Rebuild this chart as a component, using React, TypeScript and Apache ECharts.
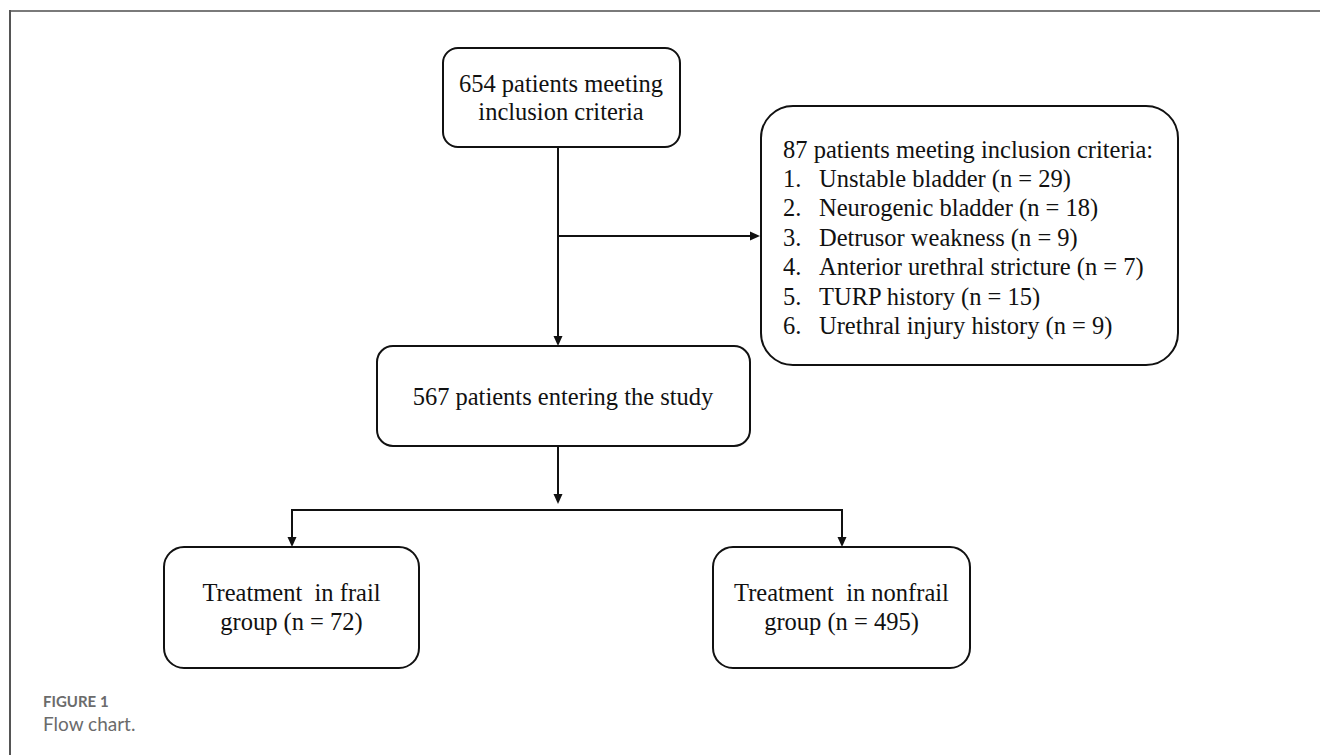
import React, { useEffect, useRef } from "react";
import * as echarts from "echarts";

const topBoxLines = ["654 patients meeting", "inclusion criteria"];
const studyBoxLines = ["567 patients entering the study"];
const exclusionTitle = "87 patients meeting inclusion criteria:";
const exclusionNumbers = ["1.", "2.", "3.", "4.", "5.", "6."];
const exclusionItems = [
  "Unstable bladder (n = 29)",
  "Neurogenic bladder (n = 18)",
  "Detrusor weakness (n = 9)",
  "Anterior urethral stricture (n = 7)",
  "TURP history (n = 15)",
  "Urethral injury history (n = 9)",
];
const frailLines = ["Treatment  in frail", "group (n = 72)"];
const nonfrailLines = ["Treatment  in nonfrail", "group (n = 495)"];
const captionTitle = "FIGURE 1";
const captionText = "Flow chart.";

const SERIF = '"Liberation Serif", "Times New Roman", serif';
const INK = "#111";
const FS = 24.5;

function box(x: number, y: number, w: number, h: number, r: number) {
  return {
    type: "rect",
    shape: { x, y, width: w, height: h, r },
    style: { fill: "#fff", stroke: INK, lineWidth: 2 },
  };
}

function centeredLines(lines: string[], cx: number, cy: number, gap: number) {
  const start = cy - ((lines.length - 1) * gap) / 2;
  return lines.map((t, i) => ({
    type: "text",
    x: cx,
    y: start + i * gap,
    style: {
      text: t,
      font: `${FS}px ${SERIF}`,
      fill: INK,
      align: "center",
      verticalAlign: "middle",
    },
  }));
}

function line(points: number[][]) {
  return {
    type: "polyline",
    shape: { points },
    style: { stroke: INK, lineWidth: 2, fill: "none" },
  };
}

function arrowDown(x: number, tipY: number) {
  return {
    type: "polygon",
    shape: { points: [[x - 4.5, tipY - 10], [x + 4.5, tipY - 10], [x, tipY]] },
    style: { fill: INK },
  };
}

function arrowRight(tipX: number, y: number) {
  return {
    type: "polygon",
    shape: { points: [[tipX - 10, y - 4.5], [tipX - 10, y + 4.5], [tipX, y]] },
    style: { fill: INK },
  };
}

export default function App() {
  const ref = useRef<HTMLDivElement>(null);
  useEffect(() => {
    document.body.style.margin = "0";
    const chart = echarts.init(ref.current!, undefined, { renderer: "svg" });
    const elements: any[] = [];

    // frame
    elements.push({
      type: "line",
      shape: { x1: 9, y1: 11, x2: 1320, y2: 11 },
      style: { stroke: "#7a7a7a", lineWidth: 2 },
    });
    elements.push({
      type: "line",
      shape: { x1: 10, y1: 10, x2: 10, y2: 755 },
      style: { stroke: "#555", lineWidth: 2 },
    });

    // connectors
    elements.push(line([[558, 147], [558, 338]]));
    elements.push(arrowDown(558, 346));
    elements.push(line([[558, 236], [751, 236]]));
    elements.push(arrowRight(760, 236));
    elements.push(line([[558, 446], [558, 495]]));
    elements.push(arrowDown(558, 504));
    elements.push(line([[292, 547 - 8], [292, 510], [842, 510], [842, 547 - 8]]));
    elements.push(arrowDown(292, 547));
    elements.push(arrowDown(842, 547));

    // boxes
    elements.push(box(443, 48, 237, 99, 15));
    elements.push(...centeredLines(topBoxLines, 561, 97, 28));

    elements.push(box(377, 346, 373, 100, 16));
    elements.push(...centeredLines(studyBoxLines, 563, 396, 28));

    elements.push(box(761, 106, 417, 259, 32));
    elements.push({
      type: "text",
      x: 783,
      y: 149,
      style: { text: exclusionTitle, font: `${FS}px ${SERIF}`, fill: INK, align: "left", verticalAlign: "middle" },
    });
    exclusionItems.forEach((t, i) => {
      const y = 149 + (i + 1) * 29.4;
      elements.push({
        type: "text",
        x: 783,
        y,
        style: { text: exclusionNumbers[i], font: `${FS}px ${SERIF}`, fill: INK, align: "left", verticalAlign: "middle" },
      });
      elements.push({
        type: "text",
        x: 819,
        y,
        style: { text: t, font: `${FS}px ${SERIF}`, fill: INK, align: "left", verticalAlign: "middle" },
      });
    });

    elements.push(box(164, 547, 255, 121, 20));
    elements.push(...centeredLines(frailLines, 291.5, 607, 29));

    elements.push(box(713, 547, 257, 121, 20));
    elements.push(...centeredLines(nonfrailLines, 841.5, 607, 29));

    // caption
    elements.push({
      type: "text",
      x: 43,
      y: 701,
      style: { text: captionTitle, font: 'bold 15px Lato, "Open Sans", sans-serif', fill: "#6b6b6b", align: "left", verticalAlign: "middle" },
    });
    elements.push({
      type: "text",
      x: 43,
      y: 723,
      style: { text: captionText, font: '19px Lato, "Open Sans", sans-serif', fill: "#6b6b6b", align: "left", verticalAlign: "middle" },
    });

    chart.setOption({
      animation: false,
      backgroundColor: "#fff",
      series: [],
      graphic: { elements },
    });
    return () => chart.dispose();
  }, []);
  return <div ref={ref} style={{ width: 1320, height: 755, position: "absolute", left: 0, top: 0 }} />;
}
